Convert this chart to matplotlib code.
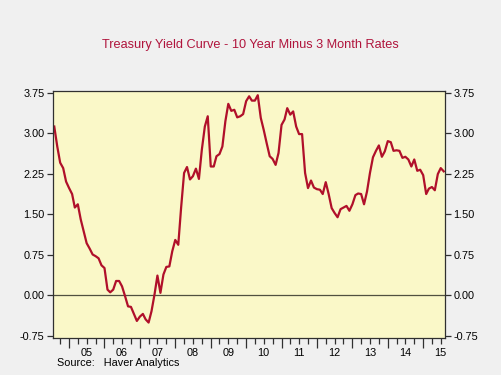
import matplotlib
matplotlib.use("Agg")
import matplotlib.pyplot as plt
import matplotlib.dates as mdates
import numpy as np
import pandas as pd

plt.rcParams["font.family"] = ["Liberation Sans", "DejaVu Sans"]

# 10y minus 3m spread, monthly, Aug 2004 .. Aug 2015
start_month = "2004-08"
spread = [
    3.12, 2.75, 2.45, 2.35, 2.10, 1.98, 1.87, 1.62, 1.68, 1.40,
    1.18, 0.96, 0.86, 0.75, 0.72, 0.68, 0.55, 0.50, 0.10, 0.05,
    0.10, 0.26, 0.26, 0.16, -0.02, -0.21, -0.22, -0.35, -0.48, -0.40,
    -0.35, -0.45, -0.51, -0.30, 0.01, 0.36, 0.04, 0.38, 0.52, 0.53,
    0.81, 1.02, 0.93, 1.61, 2.26, 2.37, 2.14, 2.20, 2.34, 2.15,
    2.69, 3.12, 3.31, 2.38, 2.38, 2.57, 2.61, 2.75, 3.22, 3.54,
    3.41, 3.43, 3.29, 3.31, 3.35, 3.59, 3.68, 3.60, 3.60, 3.70,
    3.28, 3.06, 2.81, 2.57, 2.52, 2.41, 2.63, 3.15, 3.25, 3.46,
    3.34, 3.40, 3.12, 2.98, 2.98, 2.26, 1.98, 2.12, 1.99, 1.96,
    1.95, 1.87, 2.09, 1.87, 1.61, 1.52, 1.44, 1.59, 1.62, 1.65,
    1.56, 1.68, 1.85, 1.88, 1.87, 1.68, 1.92, 2.26, 2.55, 2.67,
    2.77, 2.56, 2.66, 2.85, 2.83, 2.67, 2.68, 2.67, 2.54, 2.56,
    2.51, 2.38, 2.51, 2.30, 2.32, 2.22, 1.87, 1.97, 2.00, 1.94,
    2.24, 2.35, 2.29,
]
years = list(range(2005, 2016))
year_labels = ["05", "06", "07", "08", "09", "10", "11", "12", "13", "14", "15"]
yticks = [-0.75, 0.0, 0.75, 1.50, 2.25, 3.00, 3.75]

dates = pd.date_range(start_month, periods=len(spread), freq="MS")

fig = plt.figure(figsize=(5.01, 3.75), dpi=100, facecolor="#f0f0f0")
ax = fig.add_axes([53 / 501, 1 - 338 / 375, 392 / 501, 247 / 375])
ax.set_facecolor("#faf8c8")

ax.axhline(0, color="#505040", lw=0.9, zorder=1)
ax.plot(dates, spread, color="#b0102a", lw=1.6, zorder=2)

ax.set_ylim(-0.796, 3.778)
ax.set_xlim(pd.Timestamp("2004-07-19"), pd.Timestamp("2015-08-14"))

ax.set_yticks(yticks)
ax.set_yticklabels([f"{v:.2f}" for v in yticks])
ax.tick_params(axis="y", which="both", direction="out", length=4, width=0.9,
               labelsize=7.8, left=True, right=True, labelleft=True,
               labelright=True, pad=2, color="#303030")

# year boundaries = long ticks, quarters = short ticks, labels mid-year
ax.set_xticks([pd.Timestamp(f"{y}-01-01") for y in years])
ax.xaxis.set_minor_locator(mdates.MonthLocator(bymonth=[1, 4, 7, 10]))
ax.set_xticklabels([])
ax.tick_params(axis="x", which="major", direction="out", length=7, width=0.9,
               color="#303030")
ax.tick_params(axis="x", which="minor", direction="out", length=4, width=0.9,
               color="#303030")
for y, lab in zip(years, year_labels):
    ax.annotate(lab, (pd.Timestamp(f"{y}-07-01"), 0), xycoords=("data", "axes fraction"),
                xytext=(0, -11), textcoords="offset points",
                ha="center", va="center", fontsize=7.8)

for s in ax.spines.values():
    s.set_color("#303030")
    s.set_linewidth(0.9)

fig.text(0.5, 1 - 45 / 375, "Treasury Yield Curve - 10 Year Minus 3 Month Rates",
         ha="center", va="center", fontsize=9.2, color="#b0143c")
fig.text(57 / 501, 1 - 363 / 375, "Source:   Haver Analytics", ha="left",
         va="center", fontsize=7.8)

plt.savefig("out.png", dpi=100, facecolor=fig.get_facecolor())
plt.close()
